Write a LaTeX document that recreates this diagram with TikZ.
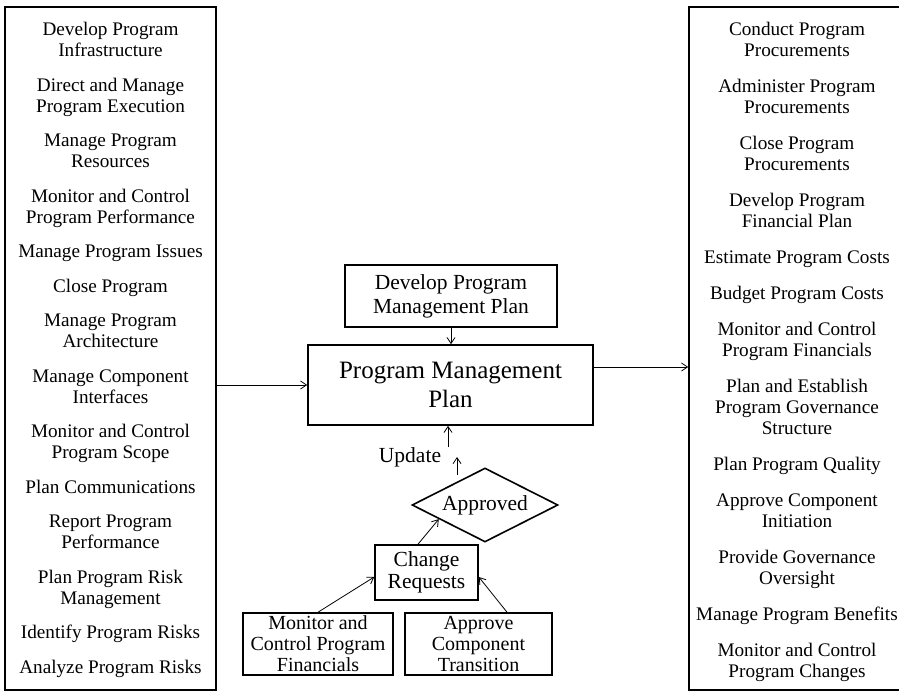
\documentclass[tikz,border=0pt]{standalone}
\usepackage{fontspec}
\setmainfont{Liberation Serif}
\usetikzlibrary{arrows.meta,shapes.geometric}

\begin{document}
\begin{tikzpicture}[x=1pt,y=-1pt,
  box/.style={draw,line width=1.6pt,inner sep=0pt,align=center},
  conn/.style={line width=0.8pt,-{Straight Barb[length=6pt,width=8pt]}},
  coltext/.style={align=center,inner sep=0pt,font=\fontsize{19.2}{21}\selectfont},
  midtext/.style={font=\fontsize{21.5}{22}\selectfont},
  smalltext/.style={font=\fontsize{20}{21}\selectfont},
]
\clip (0,0) rectangle (899,692);

% process lists on both sides
\node[box,minimum width=211pt,minimum height=683pt] (inputs) at (110.5,348.5) {};
\node[coltext] (inlist) at (110.5,350) {%
Develop Program\\Infrastructure\\[13.5pt]
Direct and Manage\\Program Execution\\[13.5pt]
Manage Program\\Resources\\[13.5pt]
Monitor and Control\\Program Performance\\[13.5pt]
Manage Program Issues\\[13.5pt]
Close Program\\[13.5pt]
Manage Program\\Architecture\\[13.5pt]
Manage Component\\Interfaces\\[13.5pt]
Monitor and Control\\Program Scope\\[13.5pt]
Plan Communications\\[13.5pt]
Report Program\\Performance\\[13.5pt]
Plan Program Risk\\Management\\[13.5pt]
Identify Program Risks\\[13.5pt]
Analyze Program Risks};

\node[box,minimum width=216pt,minimum height=683pt] (outputs) at (797,348.5) {};
\node[coltext] (outlist) at (797,352) {%
Conduct Program\\Procurements\\[15pt]
Administer Program\\Procurements\\[15pt]
Close Program\\Procurements\\[15pt]
Develop Program\\Financial Plan\\[15pt]
Estimate Program Costs\\[15pt]
Budget Program Costs\\[15pt]
Monitor and Control\\Program Financials\\[15pt]
Plan and Establish\\Program Governance\\Structure\\[15pt]
Plan Program Quality\\[15pt]
Approve Component\\Initiation\\[15pt]
Provide Governance\\Oversight\\[15pt]
Manage Program Benefits\\[15pt]
Monitor and Control\\Program Changes};

% central flow
\node[box,minimum width=212pt,minimum height=62pt,font=\fontsize{21.5}{24}\selectfont]
  (dpmp) at (451,296) {Develop Program\\Management Plan};
\node[box,minimum width=285pt,minimum height=80pt,font=\fontsize{25}{29}\selectfont]
  (pmp) at (450.5,385) {Program Management\\Plan};
\node[draw,line width=1.6pt,shape=diamond,inner sep=0pt,aspect=2,
  minimum width=146pt,minimum height=74pt,midtext] (approved) at (485,505) {Approved};
\node[box,minimum width=103pt,minimum height=55pt,midtext]
  (cr) at (426.5,572.5) {Change\\Requests};
\node[box,minimum width=150pt,minimum height=62pt,smalltext]
  (mon) at (318,644) {Monitor and\\Control Program\\Financials};
\node[box,minimum width=147pt,minimum height=62pt,smalltext]
  (apc) at (478.5,644) {Approve\\Component\\Transition};
\node[midtext,inner sep=0pt] (update) at (410,457) {Update};

% connectors
\draw[conn] (inputs.east |- pmp.west) -- (pmp.west);
\coordinate (pout) at ([yshift=18pt]pmp.east);
\draw[conn] (pout) -- (outputs.west |- pout);
\draw[conn] (dpmp.south) -- (dpmp.south |- pmp.north);
\coordinate (upA) at (448,447);
\draw[conn] (upA) -- (upA |- pmp.south);
\coordinate (upB) at (457,475);
\coordinate (upC) at (457,457);
\draw[conn] (upB) -- (upC);
\draw[conn] ([xshift=-8.5pt]cr.north) -- (approved.197);
\draw[conn] (mon.north) -- ([yshift=-4.5pt]cr.west);
\draw[conn] ([xshift=28.5pt]apc.north) -- ([yshift=-4.5pt]cr.east);
\end{tikzpicture}
\end{document}
